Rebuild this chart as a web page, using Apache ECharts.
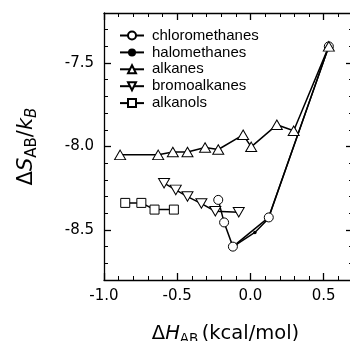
<!DOCTYPE html>
<html><head><meta charset="utf-8">
<script src="https://cdn.jsdelivr.net/npm/echarts@6/dist/echarts.min.js"></script>
<style>html,body{margin:0;padding:0;background:#fff}#c{width:350px;height:341px}</style>
</head><body><div id="c"></div>
<script>
const chloroX = [-0.22, -0.18, -0.12, 0.125, 0.535];
const chloroY = [-8.32, -8.455, -8.60, -8.425, -7.40];
const haloX = [-0.10, 0.03, 0.12, 0.535];
const haloY = [-8.59, -8.515, -8.435, -7.40];
const alkanesX = [-0.89, -0.63, -0.53, -0.43, -0.31, -0.22, -0.05, 0.005, 0.18, 0.295, 0.535];
const alkanesY = [-8.05, -8.05, -8.033, -8.033, -8.006, -8.018, -7.93, -8.002, -7.87, -7.906, -7.40];
const bromoX = [-0.59, -0.51, -0.43, -0.335, -0.24, -0.08];
const bromoY = [-8.22, -8.26, -8.30, -8.342, -8.388, -8.394];
const alkanolsX = [-0.855, -0.745, -0.655, -0.523];
const alkanolsY = [-8.338, -8.338, -8.378, -8.378];
const xMajor = [-1.0, -0.5, 0.0, 0.5];
const yMajor = [-8.5, -8.0, -7.5];

const pts = (xs, ys) => xs.map((x, i) => [x, ys[i]]);
const tickFont = 'DejaVu Sans';
const base = {
  type: 'line', xAxisIndex: 0, yAxisIndex: 0,
  lineStyle: { color: '#000', width: 1.5 },
  itemStyle: { color: '#fff', borderColor: '#000', borderWidth: 1 },
  emphasis: { disabled: true }, animation: false
};
function xa(pos, major, labels) {
  return {
    type: 'value', position: pos, min: -1.0, max: 0.7, interval: 0.1,
    axisLine: { show: !major, onZero: false, lineStyle: { color: '#000', width: 1.3 } },
    axisTick: major ? { inside: true, length: 7, customValues: xMajor, lineStyle: { color: '#000', width: 1.3 } }
                    : { inside: true, length: 4, lineStyle: { color: '#000', width: 1 } },
    axisLabel: labels ? { show: true, customValues: xMajor, formatter: v => v.toFixed(1), color: '#000', fontFamily: tickFont, fontSize: 15, margin: 9 } : { show: false },
    splitLine: { show: false }
  };
}
function ya(pos, major, labels) {
  return {
    type: 'value', position: pos, min: -8.8, max: -7.2, interval: 0.1,
    axisLine: { show: !major, onZero: false, lineStyle: { color: '#000', width: 1.3 } },
    axisTick: major ? { inside: true, length: 7, customValues: yMajor, lineStyle: { color: '#000', width: 1.3 } }
                    : { inside: true, length: 4, lineStyle: { color: '#000', width: 1 } },
    axisLabel: labels ? { show: true, customValues: yMajor, formatter: v => v.toFixed(1), color: '#000', fontFamily: tickFont, fontSize: 15, margin: 10 } : { show: false },
    splitLine: { show: false }
  };
}
const xAxes = [xa('bottom', false, true), xa('bottom', true, false), xa('top', false, false), xa('top', true, false)];
xAxes[0].name = '{n|Δ}{i|H}{s|AB} {n|(kcal/mol)}';
xAxes[0].nameLocation = 'middle';
xAxes[0].nameGap = 41;
xAxes[0].nameTextStyle = {
  padding: [0, 6, 0, 0],
  rich: {
    n: { fontFamily: tickFont, fontSize: 19.5, color: '#000' },
    i: { fontFamily: tickFont, fontSize: 19.5, fontStyle: 'italic', color: '#000' },
    s: { fontFamily: tickFont, fontSize: 13.5, color: '#000', padding: [11, 0, 0, 0] }
  }
};
const yAxes = [ya('left', false, true), ya('left', true, false), ya('right', false, false), ya('right', true, false)];
yAxes[0].name = '{n|Δ}{i|S}{s|AB}{n|/}{i|k}{si|B}';
yAxes[0].nameLocation = 'middle';
yAxes[0].nameGap = 64;
yAxes[0].nameTextStyle = {
  rich: {
    n: { fontFamily: tickFont, fontSize: 21, color: '#000' },
    i: { fontFamily: tickFont, fontSize: 21, fontStyle: 'italic', color: '#000' },
    s: { fontFamily: tickFont, fontSize: 15, color: '#000', padding: [11, 0, 0, 0] },
    si: { fontFamily: tickFont, fontSize: 15, fontStyle: 'italic', color: '#000', padding: [11, 0, 0, 0] }
  }
};

const chart = echarts.init(document.getElementById('c'), null, { renderer: 'canvas' });
chart.setOption({
  animation: false,
  backgroundColor: '#fff',
  grid: { left: 104, right: -3, top: 13, bottom: 61, containLabel: false, outerBoundsMode: 'none' },
  xAxis: xAxes,
  yAxis: yAxes,
  legend: {
    orient: 'vertical', left: 114, top: 23, itemWidth: 24, itemHeight: 10, itemGap: 1.9,
    textStyle: { fontFamily: 'Liberation Sans', fontSize: 15, lineHeight: 14, color: '#000', padding: [0, 0, 0, 3] },
    data: ['chloromethanes', 'halomethanes', 'alkanes', 'bromoalkanes', 'alkanols']
  },
  series: [
    Object.assign({}, base, { name: 'halomethanes', data: pts(haloX, haloY), symbol: 'circle', symbolSize: 3.5,
      itemStyle: { color: '#000', borderColor: '#000', borderWidth: 0 } }),
    Object.assign({}, base, { name: 'chloromethanes', data: pts(chloroX, chloroY), symbol: 'circle', symbolSize: 9 }),
    Object.assign({}, base, { name: 'alkanes', data: pts(alkanesX, alkanesY), symbol: 'path://M5,0L10,8.66L0,8.66Z', symbolSize: [11, 9.5] }),
    Object.assign({}, base, { name: 'bromoalkanes', data: pts(bromoX, bromoY), symbol: 'path://M0,0L10,0L5,8.66Z', symbolSize: [11, 9.5] }),
    Object.assign({}, base, { name: 'alkanols', data: pts(alkanolsX, alkanolsY), symbol: 'rect', symbolSize: 9 })
  ]
});
</script></body></html>
